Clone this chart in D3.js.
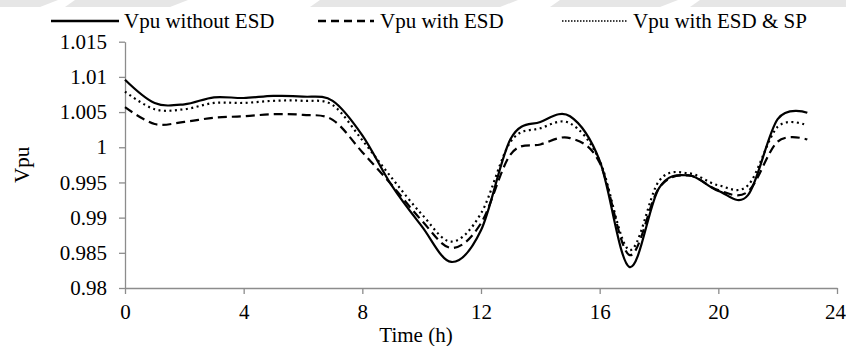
<!DOCTYPE html>
<html>
<head>
<meta charset="utf-8">
<script src="https://cdn.jsdelivr.net/npm/d3@7"></script>
<style>
  body { margin: 0; background: #fff; }
  svg text { font-family: "Liberation Serif", "Times New Roman", "DejaVu Serif", serif !important; fill: #000; }
  .axis path, .axis line { stroke: #8c8c8c; stroke-width: 1.3; }
  .axis text { font-size: 21px; }
</style>
</head>
<body>
<svg id="chart" width="846" height="346"></svg>
<script>
// hourly readings, 0..23 h
const hours = d3.range(0, 24);
const vpuWithoutEsd = [1.0096, 1.0063, 1.0061, 1.0071, 1.0070, 1.0073, 1.0072, 1.0066,
  1.0017, 0.9945, 0.9888, 0.9837, 0.9882, 1.0012, 1.0036, 1.0044,
  0.9981, 0.9830, 0.9942, 0.9960, 0.9938, 0.9932, 1.0040, 1.0049];
const vpuWithEsd = [1.0057, 1.0033, 1.0036, 1.0042, 1.0044, 1.0047, 1.0046, 1.0039,
  0.9993, 0.9946, 0.9896, 0.9857, 0.9892, 0.9990, 1.0004, 1.0013,
  0.9978, 0.9847, 0.9942, 0.9960, 0.9939, 0.9937, 1.0008, 1.0011];
const vpuWithEsdSp = [1.0079, 1.0054, 1.0054, 1.0063, 1.0063, 1.0066, 1.0066, 1.0060,
  1.0010, 0.9956, 0.9905, 0.9866, 0.9906, 1.0008, 1.0027, 1.0034,
  0.9981, 0.9854, 0.9952, 0.9963, 0.9946, 0.9946, 1.0029, 1.0031];
const seriesNames = ["Vpu without ESD", "Vpu with ESD", "Vpu with ESD & SP"];
const xTicks = [0, 4, 8, 12, 16, 20, 24];
const yTicks = [0.98, 0.985, 0.99, 0.995, 1, 1.005, 1.01, 1.015];

const svg = d3.select("#chart");

// faint grey strip along the top edge of the scan
svg.append("rect").attr("x", 0).attr("y", 0).attr("width", 846).attr("height", 7).attr("fill", "#e6e6e6");
[[40, 75], [170, 320], [500, 560], [660, 700]].forEach(function(p) {
  svg.append("polygon")
    .attr("points", p[0] + ",7 " + (p[0] + 18) + ",0 " + p[1] + ",0 " + (p[1] - 10) + ",7")
    .attr("fill", "#fff");
});

const x = d3.scaleLinear().domain([0, 24]).range([125, 837]);
const y = d3.scaleLinear().domain([0.98, 1.015]).range([288, 41.7]);

const fmt = function(d) { return String(+d.toFixed(3)); };

const xAxisG = svg.append("g")
  .attr("class", "x axis")
  .attr("transform", "translate(0," + y(0.98) + ")")
  .call(d3.axisBottom(x).tickValues(xTicks).tickSize(6).tickSizeOuter(0).tickPadding(10));

// last label sits against the right edge
xAxisG.selectAll(".tick text").filter(function(d) { return d === 24; }).attr("dx", -2);

svg.append("g")
  .attr("class", "y axis")
  .attr("transform", "translate(" + x(0) + ",0)")
  .call(d3.axisLeft(y).tickValues(yTicks).tickFormat(fmt).tickSize(6).tickSizeOuter(0).tickPadding(12));

svg.selectAll(".axis").attr("font-family", null);

svg.append("text")
  .attr("transform", "translate(29," + ((y(0.98) + y(1.015)) / 2) + ") rotate(-90)")
  .attr("text-anchor", "middle")
  .style("font-size", "21px")
  .text("Vpu");

svg.append("text")
  .attr("x", 416)
  .attr("y", 342)
  .attr("text-anchor", "middle")
  .style("font-size", "21px")
  .text("Time (h)");

const styles = [
  { dash: null, width: 2.2 },
  { dash: "9,5", width: 2.2 },
  { dash: "2,3.5", width: 2.2 }
];
const allSeries = [vpuWithoutEsd, vpuWithEsd, vpuWithEsdSp];

const line = d3.line()
  .x(function(d, i) { return x(hours[i]); })
  .y(function(d) { return y(d); })
  .curve(d3.curveCardinal.tension(0));

allSeries.forEach(function(s, k) {
  svg.append("path")
    .datum(s)
    .attr("fill", "none")
    .attr("stroke", "#000")
    .attr("stroke-width", styles[k].width)
    .attr("stroke-dasharray", styles[k].dash)
    .attr("d", line);
});

// legend
const legendItems = [
  { x0: 51, x1: 119, tx: 124 },
  { x0: 318, x1: 374, tx: 380 },
  { x0: 562, x1: 628, tx: 633 }
];
const legend = svg.append("g");
legendItems.forEach(function(it, k) {
  legend.append("line")
    .attr("x1", it.x0).attr("x2", it.x1)
    .attr("y1", 21).attr("y2", 21)
    .attr("stroke", "#000")
    .attr("stroke-width", k === 2 ? 1.5 : 2.5)
    .attr("stroke-dasharray", k === 1 ? "8,5" : (k === 2 ? "1.5,1.5" : null));
  legend.append("text")
    .attr("x", it.tx).attr("y", 28)
    .style("font-size", "21px")
    .text(seriesNames[k]);
});
</script>
</body>
</html>
